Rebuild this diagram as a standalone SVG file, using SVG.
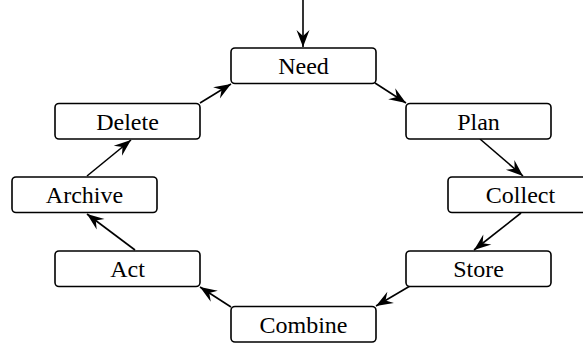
<svg xmlns="http://www.w3.org/2000/svg" width="583" height="343" viewBox="0 0 583 343">
<style>
.box{fill:#fff;stroke:#000;stroke-width:1.6}
.lbl{font-family:"Liberation Serif","Times New Roman",serif;font-size:24px;fill:#000;text-anchor:middle}
.edge{stroke:#000;stroke-width:1.6;fill:none}
</style>
<defs>
<marker id="ah" markerUnits="userSpaceOnUse" viewBox="-19 -8 20 16" refX="0" refY="0" markerWidth="20" markerHeight="16" orient="auto">
<path d="M0,0 L-17,-6.5 L-11,0 L-17,6.5 Z" fill="#000"/>
</marker>
</defs>
<g id="connectors">
<line class="edge" x1="303" y1="0" x2="303" y2="47" marker-end="url(#ah)"/>
<line class="edge" x1="375" y1="83" x2="406" y2="103" marker-end="url(#ah)"/>
<line class="edge" x1="480" y1="139" x2="523" y2="176" marker-end="url(#ah)"/>
<line class="edge" x1="521" y1="213" x2="474" y2="250" marker-end="url(#ah)"/>
<line class="edge" x1="410" y1="286" x2="376" y2="306" marker-end="url(#ah)"/>
<line class="edge" x1="231" y1="307" x2="200" y2="287" marker-end="url(#ah)"/>
<line class="edge" x1="135" y1="250" x2="87" y2="214" marker-end="url(#ah)"/>
<line class="edge" x1="87" y1="176" x2="131" y2="140" marker-end="url(#ah)"/>
<line class="edge" x1="200" y1="103" x2="231" y2="84" marker-end="url(#ah)"/>
</g>
<g id="need"><rect class="box" x="231" y="48" width="145" height="35.5" rx="4"/><text class="lbl" x="303.5" y="74">Need</text></g>
<g id="plan"><rect class="box" x="406" y="103.5" width="145" height="35.5" rx="4"/><text class="lbl" x="478.5" y="129.5">Plan</text></g>
<g id="collect"><rect class="box" x="448" y="177" width="145" height="35.5" rx="4"/><text class="lbl" x="520.5" y="203">Collect</text></g>
<g id="store"><rect class="box" x="406" y="251" width="145" height="35.5" rx="4"/><text class="lbl" x="478.5" y="277">Store</text></g>
<g id="combine"><rect class="box" x="231" y="306.5" width="145" height="35.5" rx="4"/><text class="lbl" x="303.5" y="332.5">Combine</text></g>
<g id="act"><rect class="box" x="55" y="251" width="145" height="35.5" rx="4"/><text class="lbl" x="127.5" y="277">Act</text></g>
<g id="archive"><rect class="box" x="12" y="177" width="145" height="35.5" rx="4"/><text class="lbl" x="84.5" y="203">Archive</text></g>
<g id="delete"><rect class="box" x="55" y="103.5" width="145" height="35.5" rx="4"/><text class="lbl" x="127.5" y="129.5">Delete</text></g>
</svg>
